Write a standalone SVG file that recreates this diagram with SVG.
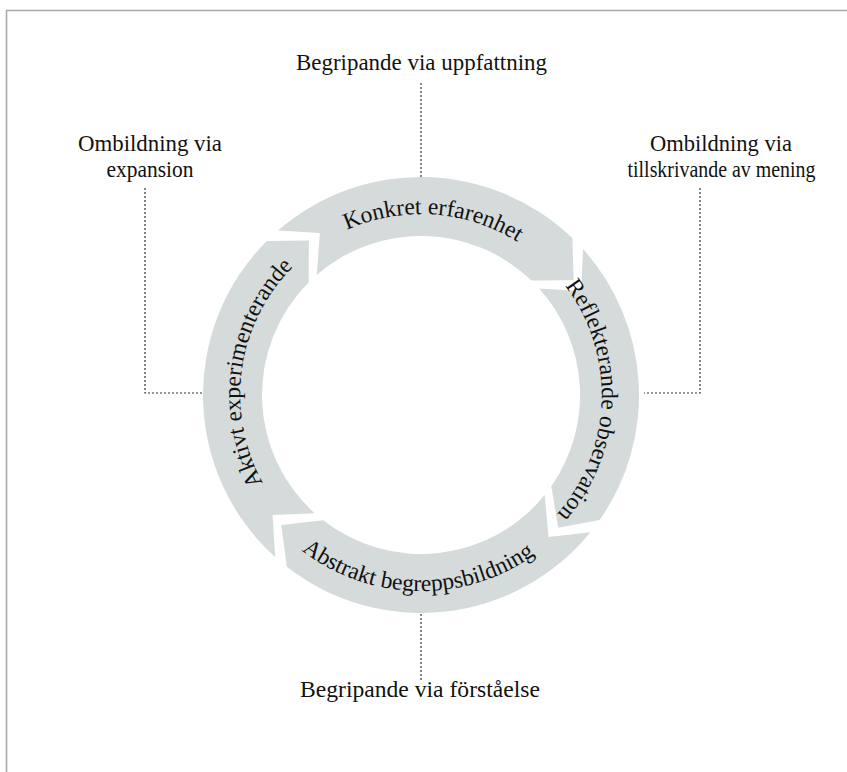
<svg xmlns="http://www.w3.org/2000/svg" width="847" height="772" viewBox="0 0 847 772">
<style>
  .seg { fill: #d5dada; stroke: none; }
  .lbl { font-family: "Liberation Serif", "DejaVu Serif", serif; font-size: 22.5px; fill: #111; text-anchor: middle; }
  .rt { font-family: "Liberation Serif", "DejaVu Serif", serif; font-size: 23.5px; fill: #111; }
  .dot { fill: none; stroke: #333; stroke-width: 1.2; stroke-dasharray: 2 2; }
</style>
<defs>
  <path id="pTop" d="M 245.4 351.2 A 181 181 0 0 1 601.0 376.1"/>
  <path id="pRight" d="M 458.6 218.0 A 181 181 0 0 1 446.2 574.2"/>
  <path id="pLeft" d="M 365.1 567.1 A 181 181 0 0 1 414.7 214.1"/>
  <path id="pBottom" d="M 227.4 425.7 A 196 196 0 0 0 613.4 432.4"/>
</defs>
<rect x="0" y="0" width="847" height="772" fill="#ffffff"/>
<polyline points="847,10.5 6.5,10.5 6.5,772" fill="none" stroke="#a8a8a8" stroke-width="1.6"/>

<g id="connectors">
  <polyline class="dot" points="421,83 421,177"/>
  <polyline class="dot" points="145,188 145,393 204,393"/>
  <polyline class="dot" points="700,188 700,393 644,393"/>
  <polyline class="dot" points="421,614 421,680"/>
</g>

<g id="konkret">
  <path class="seg" d="M 278.0 230.5 A 218 218 0 0 1 572.4 238.2 L 573.6 280.2 L 531.5 280.6 A 159 159 0 0 0 316.7 275.0 L 319.9 233.0 Z"/>
  <text class="rt"><textPath href="#pTop" startOffset="50%" text-anchor="middle">Konkret erfarenhet</textPath></text>
</g>
<g id="reflekterande">
  <path class="seg" d="M 583.0 249.1 A 218 218 0 0 1 599.6 520.0 L 558.2 527.7 L 551.3 486.2 A 159 159 0 0 0 539.2 288.6 L 581.2 291.2 Z"/>
  <text class="rt"><textPath href="#pRight" startOffset="50%" text-anchor="middle">Reflekterande observation</textPath></text>
</g>
<g id="abstrakt">
  <path class="seg" d="M 590.4 532.2 A 218 218 0 0 1 286.8 566.8 L 281.3 525.0 L 323.1 520.3 A 159 159 0 0 0 544.6 495.1 L 548.6 536.9 Z"/>
  <text class="rt"><textPath href="#pBottom" startOffset="50%" text-anchor="middle">Abstrakt begreppsbildning</textPath></text>
</g>
<g id="aktivt">
  <path class="seg" d="M 275.1 557.0 A 218 218 0 0 1 266.9 240.9 L 308.9 240.5 L 308.6 282.6 A 159 159 0 0 0 314.6 513.2 L 272.6 515.0 Z"/>
  <text class="rt"><textPath href="#pLeft" startOffset="50%" text-anchor="middle">Aktivt experimenterande</textPath></text>
</g>

<g id="label-top">
  <text class="lbl" x="421.5" y="70" textLength="251" lengthAdjust="spacingAndGlyphs">Begripande via uppfattning</text>
</g>
<g id="label-left">
  <text class="lbl" x="150" y="151" textLength="144" lengthAdjust="spacingAndGlyphs">Ombildning via</text>
  <text class="lbl" x="150" y="177" textLength="87" lengthAdjust="spacingAndGlyphs">expansion</text>
</g>
<g id="label-right">
  <text class="lbl" x="721" y="151" textLength="142" lengthAdjust="spacingAndGlyphs">Ombildning via</text>
  <text class="lbl" x="721.5" y="177" textLength="188" lengthAdjust="spacingAndGlyphs">tillskrivande av mening</text>
</g>
<g id="label-bottom">
  <text class="lbl" x="420" y="697" textLength="240" lengthAdjust="spacingAndGlyphs">Begripande via förståelse</text>
</g>
</svg>
